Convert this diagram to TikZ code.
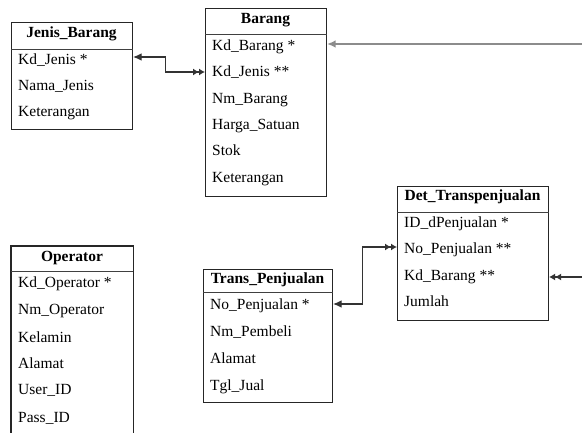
\documentclass[tikz,border=0pt]{standalone}
\usepackage{fontspec}
\setmainfont{Liberation Serif}
\usetikzlibrary{arrows.meta}
\begin{document}
\begin{tikzpicture}[x=1pt,y=-1pt,
  font=\fontsize{15.5}{18}\selectfont,
  ent/.style={draw=black!85, line width=1.1pt, inner sep=0pt, anchor=north west},
  entopen/.style={inner sep=0pt, anchor=north west},
  divl/.style={draw=black!75, line width=1pt},
  ttl/.style={font=\fontsize{15.5}{18}\selectfont\bfseries, anchor=base, inner sep=0pt},
  fld/.style={anchor=west, inner sep=0pt, text height=10pt, text depth=0pt},
  rel/.style={draw=black!80, line width=1.1pt},
  relg/.style={draw=black!45, line width=1.4pt},
  onetip/.tip={Latex[length=8.5pt,width=7.5pt]},
  manytip/.tip={Latex[length=6pt,width=7pt] Latex[length=6pt,width=7pt]}
]
\fill[white] (0,0) rectangle (582,433);
\useasboundingbox (0,0) rectangle (582,433);

% ---------- Jenis_Barang ----------
\node[ent, minimum width=121pt, minimum height=107pt] (jb) at (11,22) {};
\draw[divl] (jb.west |- 0,50) -- (jb.east |- 0,50);
\node[ttl] (jbt) at (71.5,38) {Jenis\_Barang};
\node[fld] (jb1) at (18,60) {Kd\_Jenis *};
\node[fld] (jb2) at (18,86) {Nama\_Jenis};
\node[fld] (jb3) at (18,112) {Keterangan};

% ---------- Barang ----------
\node[ent, minimum width=121pt, minimum height=188pt] (br) at (205,8) {};
\draw[divl] (br.west |- 0,35) -- (br.east |- 0,35);
\node[ttl] (brt) at (265.5,24) {Barang};
\node[fld] (br1) at (212,46) {Kd\_Barang *};
\node[fld] (br2) at (212,72) {Kd\_Jenis **};
\node[fld] (br3) at (212,99) {Nm\_Barang};
\node[fld] (br4) at (212,125) {Harga\_Satuan};
\node[fld] (br5) at (212,151) {Stok};
\node[fld] (br6) at (212,178) {Keterangan};

% ---------- Operator (open bottom) ----------
\node[entopen, minimum width=122pt, minimum height=187pt] (op) at (11,246) {};
\draw[rel, draw=black!85] (op.south west) |- (op.north east) -- (op.south east);
\draw[divl] (op.west |- 0,272) -- (op.east |- 0,272);
\node[ttl] (opt) at (72,262) {Operator};
\node[fld] (op1) at (18,283) {Kd\_Operator *};
\node[fld] (op2) at (18,310) {Nm\_Operator};
\node[fld] (op3) at (18,337) {Kelamin};
\node[fld] (op4) at (18,363) {Alamat};
\node[fld] (op5) at (18,390) {User\_ID};
\node[fld] (op6) at (18,417) {Pass\_ID};

% ---------- Trans_Penjualan ----------
\node[ent, minimum width=129pt, minimum height=133pt] (tp) at (203,269) {};
\draw[divl] (tp.west |- 0,293) -- (tp.east |- 0,293);
\node[ttl] (tpt) at (267.5,284) {Trans\_Penjualan};
\node[fld] (tp1) at (210,305) {No\_Penjualan *};
\node[fld] (tp2) at (210,332) {Nm\_Pembeli};
\node[fld] (tp3) at (210,358) {Alamat};
\node[fld] (tp4) at (210,385) {Tgl\_Jual};

% ---------- Det_Transpenjualan ----------
\node[ent, minimum width=151pt, minimum height=134pt] (dt) at (397,186) {};
\draw[divl] (dt.west |- 0,213) -- (dt.east |- 0,213);
\node[ttl] (dtt) at (472.5,201) {Det\_Transpenjualan};
\node[fld] (dt1) at (404,223) {ID\_dPenjualan *};
\node[fld] (dt2) at (404,249) {No\_Penjualan **};
\node[fld] (dt3) at (404,276) {Kd\_Barang **};
\node[fld] (dt4) at (404,302) {Jumlah};

% ---------- free ends at the right margin ----------
\coordinate (rb) at (582,0);

% ---------- connectors ----------
\draw[rel, onetip-manytip] (jb.east |- 0,57) -- ++(32,0) |- (br.west |- 0,72);
\draw[relg, -onetip] (rb |- 0,44) -- (br.east |- 0,44);
\draw[rel, onetip-manytip] (tp.east |- 0,304) -- ++(29,0) |- (dt.west |- 0,247);
\draw[rel, -manytip] (rb |- 0,277) -- (dt.east |- 0,277);
\end{tikzpicture}
\end{document}
